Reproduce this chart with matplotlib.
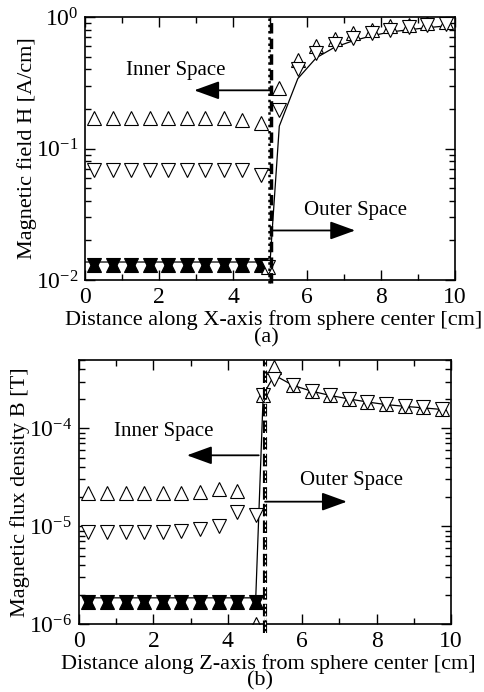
import numpy as np
import matplotlib
matplotlib.use("Agg")
import matplotlib.pyplot as plt
from matplotlib.ticker import LogLocator, MultipleLocator

plt.rcParams['font.family'] = ['Liberation Serif', 'DejaVu Serif']
plt.rcParams['mathtext.fontset'] = 'custom'
plt.rcParams['mathtext.rm'] = 'Liberation Serif'
plt.rcParams['mathtext.it'] = 'Liberation Serif:italic'
plt.rcParams['font.size'] = 16

### Data
x_in = [0.25, 0.75, 1.25, 1.75, 2.25, 2.75, 3.25, 3.75, 4.25, 4.75]
x_out = [5.25, 5.75, 6.25, 6.75, 7.25, 7.75, 8.25, 8.75, 9.25, 9.75]

# (a) magnetic field H along X-axis
H_up_in = [0.17, 0.17, 0.17, 0.17, 0.17, 0.17, 0.17, 0.17, 0.165, 0.155]
H_dn_in = [0.069, 0.069, 0.069, 0.069, 0.069, 0.069, 0.069, 0.069, 0.069, 0.063]
H_up_out = [0.29, 0.47, 0.60, 0.68, 0.75, 0.80, 0.85, 0.875, 0.90, 0.91]
H_dn_out = [0.197, 0.40, 0.53, 0.62, 0.69, 0.755, 0.80, 0.84, 0.875, 0.89]
H_fill = [0.0129] * 10
H_edge_x = [4.95]
H_edge_y = [0.0125]
H_line_x = [0.0, 5.0, 5.25, 5.75, 6.25, 6.75, 7.25, 7.75, 8.25, 8.75, 9.25, 9.75]
H_line_y = [0.0137, 0.0137, 0.148, 0.34, 0.49, 0.59, 0.66, 0.72, 0.77, 0.80, 0.83, 0.855]

# (b) magnetic flux density B along Z-axis
B_up_in = [2.2e-5, 2.2e-5, 2.2e-5, 2.2e-5, 2.2e-5, 2.2e-5, 2.25e-5, 2.4e-5, 2.3e-5, 1.0e-6]
B_dn_in = [8.8e-6, 8.8e-6, 8.8e-6, 8.8e-6, 8.8e-6, 8.9e-6, 9.3e-6, 1.0e-5, 1.38e-5, 1.3e-5]
B_up_out = [4.2e-4, 2.77e-4, 2.43e-4, 2.19e-4, 2.0e-4, 1.87e-4, 1.77e-4, 1.70e-4, 1.64e-4, 1.58e-4]
B_dn_out = [3.2e-4, 2.77e-4, 2.43e-4, 2.19e-4, 2.0e-4, 1.87e-4, 1.77e-4, 1.70e-4, 1.64e-4, 1.58e-4]
B_fill = [1.66e-6] * 10
B_edge_x = [4.95]
B_edge_y = [2.19e-4]
B_line_x = [0.25, 4.75, 4.95, 5.25, 5.75, 6.25, 6.75, 7.25, 7.75, 8.25, 8.75, 9.25, 9.75]
B_line_y = [1.85e-6, 1.85e-6, 2.2e-4, 3.5e-4, 2.75e-4, 2.4e-4, 2.17e-4, 2.0e-4, 1.86e-4, 1.75e-4,
            1.68e-4, 1.62e-4, 1.56e-4]


fig = plt.figure(figsize=(4.85, 6.92), dpi=100)
ax1 = fig.add_axes([0.1753, 0.5954, 0.763, 0.380])
ax2 = fig.add_axes([0.163, 0.0983, 0.767, 0.3815])

ms = 10.5
open_kw = dict(ls='none', mfc='white', mec='black', mew=0.8, ms=ms)
fill_kw = dict(ls='none', mfc='black', mec='black', mew=0.8, ms=ms)


def style_axes(ax, xlabel, ylabel, ylim):
    ax.set_yscale('log')
    ax.set_xlim(0, 10)
    ax.set_ylim(*ylim)
    ax.xaxis.set_major_locator(MultipleLocator(2))
    ax.xaxis.set_minor_locator(MultipleLocator(1))
    ax.yaxis.set_major_locator(LogLocator(base=10))
    ax.yaxis.set_minor_locator(LogLocator(base=10, subs=np.arange(2, 10)))
    ax.tick_params(which='both', direction='in', top=True, right=True, width=1)
    ax.tick_params(which='major', length=7, labelsize=17, pad=5)
    ax.tick_params(which='minor', length=4)
    for s in ax.spines.values():
        s.set_linewidth(1.2)
    ax.set_xlabel(xlabel, fontsize=16)
    ax.xaxis.set_label_coords(0.51, -0.115)
    ax.set_ylabel(ylabel, fontsize=16, labelpad=-1)


def arrow(ax, tail, tip):
    ax.annotate('', xy=tip, xytext=tail,
                arrowprops=dict(arrowstyle='-|>,head_length=1.1,head_width=0.4',
                                color='black', lw=1.3, mutation_scale=14,
                                shrinkA=0, shrinkB=0))


# (a)
ax1.plot(H_line_x, H_line_y, color='black', lw=0.9, zorder=2)
ax1.plot(x_in, H_fill, marker='^', **fill_kw)
ax1.plot(x_in, H_fill, marker='v', **fill_kw)
ax1.plot(x_in, H_up_in, marker='^', **open_kw)
ax1.plot(x_in, H_dn_in, marker='v', **open_kw)
ax1.plot(x_out, H_up_out, marker='^', **open_kw)
ax1.plot(x_out, H_dn_out, marker='v', **open_kw)
ax1.plot(H_edge_x, H_edge_y, marker='^', **open_kw)
ax1.plot(H_edge_x, H_edge_y, marker='v', **open_kw)
ax1.plot([5.02, 5.02], [0.0095, 1.0], color='black', lw=2.5, ls=(0, (3, 1.5)),
         zorder=3, clip_on=False)
ax1.plot([4.97, 4.97], [0.0095, 1.0], color='black', lw=1.8, ls=(0, (1, 1.5)),
         zorder=3, clip_on=False)
arrow(ax1, (5.0, 0.277), (2.95, 0.277))
arrow(ax1, (5.08, 0.0238), (7.3, 0.0238))
ax1.text(2.45, 0.39, 'Inner Space', ha='center', va='center', fontsize=15)
ax1.text(7.3, 0.034, 'Outer Space', ha='center', va='center', fontsize=15)
style_axes(ax1, 'Distance along X-axis from sphere center [cm]',
           'Magnetic field H [A/cm]', (1e-2, 1))
fig.text(0.55, 0.512, '(a)', ha='center', va='center', fontsize=16)

# (b)
ax2.plot(B_line_x, B_line_y, color='black', lw=0.9, zorder=2)
ax2.plot(x_in, B_fill, marker='^', **fill_kw)
ax2.plot(x_in, B_fill, marker='v', **fill_kw)
ax2.plot(x_in, B_up_in, marker='^', **open_kw)
ax2.plot(x_in, B_dn_in, marker='v', **open_kw)
ax2.plot(x_out, B_up_out, marker='^', **open_kw)
ax2.plot(x_out, B_dn_out, marker='v', **open_kw)
ax2.plot(B_edge_x, B_edge_y, marker='^', **open_kw)
ax2.plot(B_edge_x, B_edge_y, marker='v', **open_kw)
ax2.plot([5.0, 5.0], [8e-7, 5e-4], color='black', lw=3, ls=(0, (3, 1)),
         zorder=3, clip_on=False)
ax2.plot([5.0, 5.0], [8e-7, 5e-4], color='white', lw=0.8, ls=(0, (2, 2)),
         zorder=3, clip_on=False)
arrow(ax2, (4.83, 5.3e-5), (2.9, 5.3e-5))
arrow(ax2, (5.0, 1.78e-5), (7.2, 1.78e-5))
ax2.text(2.27, 9.2e-5, 'Inner Space', ha='center', va='center', fontsize=15)
ax2.text(7.33, 2.9e-5, 'Outer Space', ha='center', va='center', fontsize=15)
style_axes(ax2, 'Distance along Z-axis from sphere center [cm]',
           'Magnetic flux density B [T]', (1e-6, 5e-4))
fig.text(0.536, 0.016, '(b)', ha='center', va='center', fontsize=16)

fig.savefig('out.png', dpi=100)
